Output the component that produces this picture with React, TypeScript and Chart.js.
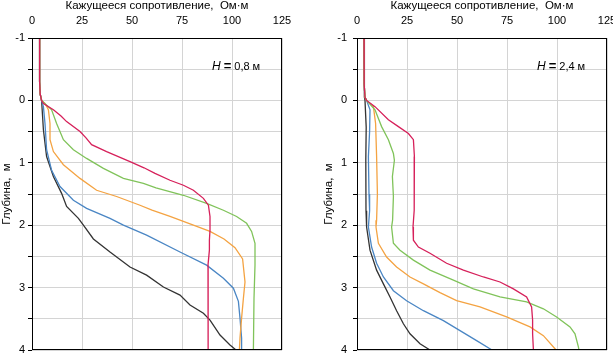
import React, { useEffect, useRef } from "react";
import { Chart, registerables } from "chart.js";
Chart.register(...registerables);

const FONT = "'Liberation Sans', Arial, Helvetica, sans-serif";

// ---- axis ticks / labels ----
const xTicks = [0, 25, 50, 75, 100, 125];
const xTitle = "Кажущееся сопротивление,  Ом·м";
const yTitle = "Глубина,  м";
const yMin = -1;
const yMax = 4;

// ---- left panel: H = 0.8 m ----
const labelLeft = "0,8 м";
const depthL_red = [-1, -0.3, -0.1, 0, 0.05, 0.15, 0.25, 0.34, 0.5, 0.6, 0.71, 0.82, 0.98, 1.08, 1.17, 1.28, 1.36, 1.44, 1.57, 1.68, 1.86, 2.08, 2.24, 2.4, 2.64, 3.0, 3.5, 4.0];
const rhoL_red = [3.8, 3.8, 4.1, 4.8, 5.7, 10.7, 14.5, 17.3, 24, 27, 29.8, 37.3, 49, 56, 61.5, 69, 75.7, 80.7, 85.7, 88.2, 89, 89, 88.7, 88.7, 88, 88.2, 88, 88];
const depthL_green = [-1, -0.3, -0.1, 0, 0.15, 0.37, 0.63, 0.79, 0.93, 1.09, 1.25, 1.33, 1.4, 1.52, 1.65, 1.76, 1.86, 1.97, 2.1, 2.29, 2.64, 3.17, 4.0];
const rhoL_green = [3.8, 3.8, 4.1, 4.8, 9.8, 12.3, 15.7, 20.7, 27.3, 35.7, 45.7, 55.7, 62, 75.7, 87.3, 95.7, 102.3, 107.3, 109.8, 111.5, 111.5, 111, 110.7];
const depthL_orange = [-1, -0.3, -0.1, 0, 0.05, 0.15, 0.37, 0.63, 0.82, 1.03, 1.25, 1.44, 1.54, 1.68, 1.76, 1.86, 2.0, 2.1, 2.22, 2.36, 2.54, 2.91, 3.17, 3.49, 3.81, 4.0];
const rhoL_orange = [3.8, 3.8, 4.1, 4.8, 6.5, 8.2, 9, 9, 10.7, 15.7, 24, 32.3, 42.3, 54, 60, 69, 80.7, 89, 96, 101.5, 105.3, 106.5, 105.7, 104.8, 104, 103.7];
const depthL_blue = [-1, -0.3, -0.1, 0, 0.1, 0.37, 0.79, 1.12, 1.38, 1.6, 1.73, 1.89, 2.0, 2.16, 2.43, 2.64, 2.85, 3.01, 3.22, 3.49, 3.81, 4.0];
const rhoL_blue = [3.8, 3.8, 4.1, 4.8, 5.7, 6.5, 7.3, 9.8, 14, 20.7, 27.3, 39, 45.7, 57.3, 74, 87.3, 95.7, 100.7, 103.2, 104, 104.8, 104.8];
const depthL_black = [-1, -0.3, -0.1, 0, 0.47, 0.9, 1.22, 1.49, 1.7, 1.89, 2.0, 2.22, 2.43, 2.67, 2.8, 2.99, 3.12, 3.28, 3.41, 3.52, 3.76, 3.92, 4.0];
const rhoL_black = [3.8, 3.8, 4.1, 4.8, 5.7, 7.3, 10.7, 14.8, 17.3, 23.2, 25.7, 30.7, 39, 49, 57.3, 65.7, 74, 79, 85.7, 89, 94, 99, 102];

// ---- right panel: H = 2.4 m ----
const labelRight = "2,4 м";
const depthR_red = [-1, -0.25, -0.05, 0, 0.1, 0.31, 0.42, 0.53, 0.63, 0.9, 1.3, 1.76, 2.03, 2.24, 2.35, 2.45, 2.61, 2.72, 2.83, 2.91, 3.02, 3.15, 3.31, 3.52, 3.74, 4.0];
const rhoR_red = [3.5, 3.6, 4.0, 4.8, 9, 15.7, 20.7, 25.7, 28.2, 28.7, 28.5, 28.7, 28, 28.2, 30.7, 36.5, 44.8, 53.2, 63.2, 71.5, 78.2, 84.8, 87.3, 87.8, 87.8, 88.2];
const depthR_green = [-1, -0.25, -0.05, 0, 0.15, 0.42, 0.63, 0.85, 0.96, 1.22, 1.54, 1.92, 2.03, 2.29, 2.4, 2.56, 2.72, 2.88, 3.02, 3.15, 3.23, 3.34, 3.47, 3.63, 3.74, 3.95, 4.0];
const rhoR_green = [3.5, 3.6, 4.0, 4.8, 9, 12.3, 15.7, 18.2, 18.7, 17.7, 18.2, 17.8, 17.3, 18.2, 21.5, 28.2, 36.5, 48.2, 58.2, 71.5, 84.8, 93.2, 99.8, 106.5, 109, 110.7, 111];
const depthR_orange = [-1, -0.25, -0.05, 0, 0.1, 0.37, 0.9, 1.5, 1.92, 2.03, 2.29, 2.51, 2.67, 2.83, 2.94, 3.08, 3.21, 3.31, 3.47, 3.63, 3.77, 3.98, 4.0];
const rhoR_orange = [3.5, 3.6, 4.0, 4.8, 8.2, 9.3, 9.8, 10.2, 9.8, 9.5, 10.7, 14.8, 19.8, 26.5, 33.2, 41.5, 49.8, 61.5, 74.8, 86.5, 93.2, 99, 99.5];
const depthR_blue = [-1, -0.25, -0.05, 0, 0.15, 0.5, 0.9, 1.5, 1.77, 2.03, 2.35, 2.61, 2.83, 3.05, 3.21, 3.37, 3.53, 3.69, 3.85, 4.0];
const rhoR_blue = [3.5, 3.6, 4.0, 4.8, 6.5, 6.3, 5.7, 6.0, 6.3, 5.7, 7.3, 9.8, 13.2, 18.2, 24.8, 33.2, 43.2, 51.5, 59.8, 67.5];
const depthR_black = [-1, -0.25, -0.05, 0, 0.43, 0.96, 1.77, 2.03, 2.4, 2.72, 2.94, 3.15, 3.37, 3.58, 3.74, 3.9, 4.0];
const rhoR_black = [3.5, 3.6, 3.8, 4.0, 4.6, 4.4, 4.5, 4.8, 6.5, 9.8, 13.2, 16.5, 19.8, 23.2, 26.5, 31.5, 36.5];

// annotation anchor (data units)
const annRho = 90;
const annDepth = -0.54;

const COLORS = {
  red: "#d6205a",
  green: "#80c35a",
  orange: "#f4a342",
  blue: "#4a86c4",
  black: "#333333",
};

function pts(depths: number[], rhos: number[]) {
  return depths.map((d, i) => ({ x: rhos[i], y: d }));
}

type Series = { color: string; depths: number[]; rhos: number[] };

const leftSeries: Series[] = [
  { color: COLORS.red, depths: depthL_red, rhos: rhoL_red },
  { color: COLORS.green, depths: depthL_green, rhos: rhoL_green },
  { color: COLORS.orange, depths: depthL_orange, rhos: rhoL_orange },
  { color: COLORS.blue, depths: depthL_blue, rhos: rhoL_blue },
  { color: COLORS.black, depths: depthL_black, rhos: rhoL_black },
];
const rightSeries: Series[] = [
  { color: COLORS.red, depths: depthR_red, rhos: rhoR_red },
  { color: COLORS.green, depths: depthR_green, rhos: rhoR_green },
  { color: COLORS.orange, depths: depthR_orange, rhos: rhoR_orange },
  { color: COLORS.blue, depths: depthR_blue, rhos: rhoR_blue },
  { color: COLORS.black, depths: depthR_black, rhos: rhoR_black },
];

type PanelProps = {
  series: Series[];
  hLabel: string;
  left: number;
  width: number;
  yAxisWidth: number;
  rightPad: number;
  yTickPad: number;
};

function Panel({ series, hLabel, left, width, yAxisWidth, rightPad, yTickPad }: PanelProps) {
  const ref = useRef<HTMLCanvasElement | null>(null);
  useEffect(() => {
    if (!ref.current) return;
    const boxPlugin = {
      id: "box",
      afterDraw(chart: any) {
        const { ctx, chartArea } = chart;
        ctx.save();
        ctx.strokeStyle = "#000";
        ctx.lineWidth = 1;
        const l = Math.round(chartArea.left) + 0.5;
        const t = Math.round(chartArea.top) + 0.5;
        const r = Math.round(chartArea.right) - 0.5;
        const b = Math.round(chartArea.bottom) - 0.5;
        ctx.strokeRect(l, t, r - l, b - t);
        // annotation
        const x = chart.scales.x.getPixelForValue(annRho);
        const y = chart.scales.y.getPixelForValue(annDepth);
        ctx.fillStyle = "#000";
        ctx.textBaseline = "middle";
        ctx.textAlign = "left";
        ctx.font = `italic 12px ${FONT}`;
        ctx.fillText("H", x, y);
        let cx = x + ctx.measureText("H").width + 3;
        ctx.font = `bold 13px ${FONT}`;
        ctx.fillText("=", cx, y);
        cx += ctx.measureText("=").width + 3;
        ctx.font = `11px ${FONT}`;
        ctx.fillText(hLabel, cx, y);
        ctx.restore();
      },
    };
    const chart = new Chart(ref.current, {
      type: "scatter",
      data: {
        datasets: series.map((s) => ({
          data: pts(s.depths, s.rhos),
          borderColor: s.color,
          backgroundColor: s.color,
          borderWidth: 1.3,
          showLine: true,
          pointRadius: 0,
          fill: false,
          tension: 0,
        })),
      },
      options: {
        responsive: false,
        maintainAspectRatio: false,
        animation: false,
        events: [],
        layout: { padding: { left: 0, right: rightPad, top: 0, bottom: 4 } },
        plugins: { legend: { display: false }, tooltip: { enabled: false } },
        scales: {
          x: {
            type: "linear",
            position: "top",
            min: xTicks[0],
            max: xTicks[xTicks.length - 1],
            afterBuildTicks: (scale: any) => {
              scale.ticks = xTicks.map((v) => ({ value: v }));
            },
            ticks: {
              color: "#000",
              font: { family: FONT, size: 11 },
              padding: 10,
              maxRotation: 0,
            },
            grid: { color: "#d4d4d4", drawTicks: false, lineWidth: 1 },
            border: { display: false },
            title: {
              display: true,
              text: xTitle,
              color: "#000",
              font: { family: FONT, size: 11.5 },
              padding: { top: -1, bottom: 0 },
            },
            afterFit: (scale: any) => {
              scale.height = 38;
              scale.paddingLeft = 0;
              scale.paddingRight = 0;
            },
          },
          y: {
            type: "linear",
            reverse: true,
            min: yMin,
            max: yMax,
            ticks: {
              stepSize: 0.5,
              autoSkip: false,
              color: "#000",
              font: { family: FONT, size: 11 },
              padding: yTickPad,
              callback: (v: any) => (Number.isInteger(Number(v)) ? String(v) : ""),
            },
            grid: { color: "#d4d4d4", tickColor: "#000", tickLength: 4, lineWidth: 1 },
            border: { display: false },
            title: {
              display: true,
              text: yTitle,
              color: "#000",
              font: { family: FONT, size: 11.5 },
              padding: { top: 0, bottom: 0 },
            },
            afterFit: (scale: any) => {
              scale.width = yAxisWidth;
              scale.paddingTop = 0;
              scale.paddingBottom = 0;
            },
          },
        },
      },
      plugins: [boxPlugin],
    } as any);
    return () => chart.destroy();
  }, []);
  return (
    <canvas
      ref={ref}
      width={width}
      height={354}
      style={{ position: "absolute", left, top: 0, width, height: 354 }}
    />
  );
}

export default function App() {
  useEffect(() => {
    document.body.style.margin = "0";
  }, []);
  return (
    <div style={{ position: "absolute", left: 0, top: 0, width: 613, height: 354, background: "#fff" }}>
      <Panel series={leftSeries} hLabel={labelLeft} left={0} width={300} yAxisWidth={32} rightPad={18} yTickPad={3} />
      <Panel series={rightSeries} hLabel={labelRight} left={322} width={291} yAxisWidth={35} rightPad={6} yTickPad={6} />
    </div>
  );
}
